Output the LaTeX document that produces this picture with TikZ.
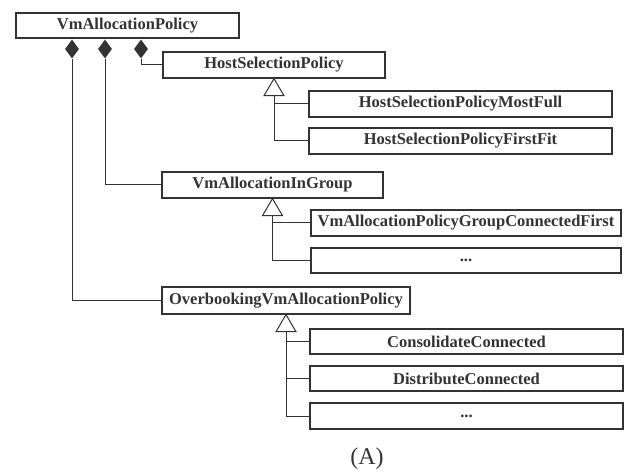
\documentclass[tikz,border=0pt]{standalone}
\usepackage{fontspec}
\setmainfont{Liberation Serif}
\usetikzlibrary{shapes.geometric,calc}
\definecolor{ink}{HTML}{333333}
\begin{document}
\begin{tikzpicture}[x=1pt,y=-1pt,
  cls/.style={draw=ink, line width=1.3pt, fill=white, text=ink,
    font=\fontsize{16.5}{18}\selectfont\bfseries, inner sep=0pt,
    minimum height=26pt},
  link/.style={draw=ink, line width=1pt},
  agg/.style={diamond, fill=ink, draw=none, inner sep=0pt,
    minimum width=14pt, minimum height=19pt},
  inherit/.style={draw=ink, line width=1pt, fill=white},
]
\useasboundingbox (0,0) rectangle (627,476);
\fill[white] (0,0) rectangle (627,476);

% classes
\node[cls, minimum width=223pt, minimum height=25pt] (root) at (127.5,25.5) {VmAllocationPolicy};
\node[cls, minimum width=222pt] (hsp) at (274,65) {HostSelectionPolicy};
\node[cls, minimum width=303pt] (mostfull) at (460.5,104) {HostSelectionPolicyMostFull};
\node[cls, minimum width=303pt] (firstfit) at (460.5,141) {HostSelectionPolicyFirstFit};
\node[cls, minimum width=221pt] (group) at (272.5,185) {VmAllocationInGroup};
\node[cls, minimum width=310pt] (gcf) at (466,223) {VmAllocationPolicyGroupConnectedFirst};
\node[cls, minimum width=310pt, minimum height=25pt] (gdots) at (466,260.5) {...};
\node[cls, minimum width=248pt, minimum height=27pt] (over) at (286,300.5) {OverbookingVmAllocationPolicy};
\node[cls, minimum width=313pt, minimum height=25pt] (cons) at (466.5,341.5) {ConsolidateConnected};
\node[cls, minimum width=313pt, minimum height=25pt] (dist) at (466.5,378.5) {DistributeConnected};
\node[cls, minimum width=313pt] (odots) at (466.5,416) {...};

% composition diamonds under the root class
\node[agg] (d1) at (72,49) {};
\node[agg] (d2) at (105,49) {};
\node[agg] (d3) at (141,49) {};
\draw[link] (d3.south) |- (hsp.west);
\draw[link] (d2.south) |- (group.west);
\draw[link] (d1.south) |- (over.west);

% generalisation: HostSelectionPolicy
\draw[inherit] (hsp.south) -- ++(-10,17) -- ++(20,0) -- cycle;
\coordinate (t1) at ($(hsp.south)+(0,17)$);
\draw[link] (t1) |- (firstfit.west);
\draw[link] (t1 |- mostfull.west) -- (mostfull.west);

% generalisation: VmAllocationInGroup
\draw[inherit] (group.south) -- ++(-10,17) -- ++(20,0) -- cycle;
\coordinate (t2) at ($(group.south)+(0,17)$);
\draw[link] (t2) |- (gdots.west);
\draw[link] (t2 |- gcf.west) -- (gcf.west);

% generalisation: OverbookingVmAllocationPolicy
\draw[inherit] (over.south) -- ++(-10,17) -- ++(20,0) -- cycle;
\coordinate (t3) at ($(over.south)+(0,17)$);
\draw[link] (t3) |- (odots.west);
\draw[link] (t3 |- cons.west) -- (cons.west);
\draw[link] (t3 |- dist.west) -- (dist.west);

\node[text=ink, font=\fontsize{24}{26}\selectfont] (cap) at (367,459) {(A)};
\end{tikzpicture}
\end{document}
